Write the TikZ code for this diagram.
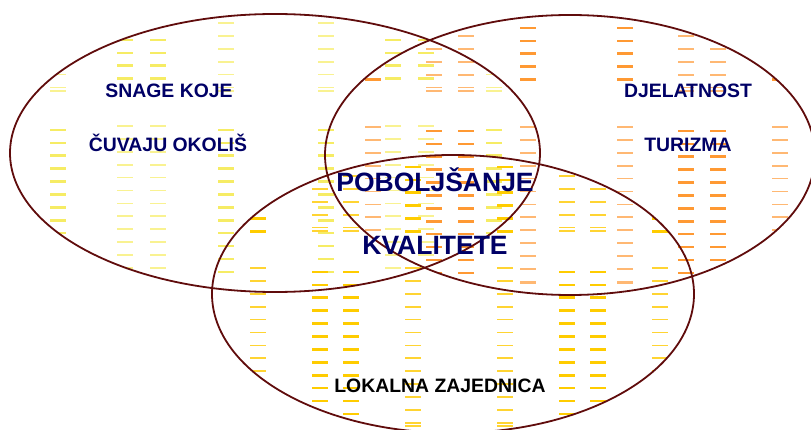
\documentclass[tikz,border=0pt]{standalone}
\usepackage{fontspec}
\setmainfont{Liberation Sans}
\usepackage{xcolor}
\usetikzlibrary{positioning}

\definecolor{rimbrown}{RGB}{96,12,12}
\definecolor{textnavy}{RGB}{0,0,102}
\definecolor{yelthick}{RGB}{246,236,100}
\definecolor{yelthin}{RGB}{249,242,145}
\definecolor{orathick}{RGB}{255,153,51}
\definecolor{orathin}{RGB}{255,184,115}
\definecolor{goldthick}{RGB}{255,204,0}
\definecolor{goldthin}{RGB}{255,212,50}

\tikzset{
  thinyel/.style={draw=yelthin, line width=1.7pt},
  thickyel/.style={draw=yelthick, line width=2.6pt},
  thinora/.style={draw=orathin, line width=1.7pt},
  thickora/.style={draw=orathick, line width=2.6pt},
  thingold/.style={draw=goldthin, line width=1.7pt},
  thickgold/.style={draw=goldthick, line width=2.6pt},
  rim/.style={draw=rimbrown, line width=1.8pt},
  lbl/.style={font=\bfseries\fontsize{19.4}{19.4}\selectfont, text=textnavy, inner sep=0pt, anchor=base},
  biglbl/.style={font=\bfseries\fontsize{26.5}{26.5}\selectfont, text=textnavy, inner sep=0pt, anchor=base}
}

% column of short dashes: x, first y, rows, style
\newcommand{\dashcol}[4]{%
  \foreach \k in {1,...,#3}{\draw[#4] (#1,{#2+12.9*(\k-1)}) -- ++(16,0);}}

\begin{document}
\begin{tikzpicture}[x=1pt, y=-1pt]
    \useasboundingbox (0,0) rectangle (811,430);

    % Left circle - environment forces
    \begin{scope}
        \clip (275,153) ellipse [x radius=265pt, y radius=139pt];
        \foreach \t in {50,318}{
            \foreach \c in {0,168}{
                \dashcol{\t+\c}{23}{6}{thinyel}
                \dashcol{\t+\c}{91}{1}{thinyel}
                \dashcol{\t+\c}{130}{12}{thickyel}
            }
            \foreach \c in {67,100}{
                \dashcol{\t+\c}{40}{4}{thickyel}
                \dashcol{\t+\c}{126}{12}{thinyel}
            }
        }
    \end{scope}

    % Right circle - tourism
    \begin{scope}
        \clip (570,155) ellipse [x radius=245pt, y radius=140pt];
        \foreach \t in {365,617}{
            \foreach \c in {0,155}{
                \dashcol{\t+\c}{28}{5}{thickora}
                \dashcol{\t+\c}{127}{13}{thinora}
                \dashcol{\t+\c}{283}{1}{thinora}
            }
            \foreach \c in {61,93}{
                \dashcol{\t+\c}{36}{5}{thinora}
                \dashcol{\t+\c}{91}{1}{thinora}
                \dashcol{\t+\c}{131}{12}{thickora}
            }
        }
    \end{scope}

    % Bottom circle - local community
    \begin{scope}
        \clip (453,294) ellipse [x radius=241pt, y radius=139pt];
        \foreach \t in {250,497}{
            \foreach \c in {0,155}{
                \dashcol{\t+\c}{167}{6}{thickgold}
                \dashcol{\t+\c}{268}{13}{thingold}
                \dashcol{\t+\c}{426}{1}{thingold}
            }
            \foreach \c in {62,93}{
                \dashcol{\t+\c}{176}{5}{thingold}
                \dashcol{\t+\c}{231}{1}{thingold}
                \dashcol{\t+\c}{272}{12}{thickgold}
            }
        }
    \end{scope}

    % Outlines
    \draw[rim] (275,153) ellipse [x radius=265pt, y radius=139pt];
    \draw[rim] (570,155) ellipse [x radius=245pt, y radius=140pt];
    \draw[rim] (453,294) ellipse [x radius=241pt, y radius=139pt];

    % Labels
    \node[lbl] (snage) at (169,98) {SNAGE KOJE};
    \node[lbl] (cuvaju) at (168,152) {ČUVAJU OKOLIŠ};
    \node[lbl] (djelatnost) at (688,98) {DJELATNOST};
    \node[lbl] (turizma) at (688,152) {TURIZMA};
    \node[biglbl] (poboljsanje) at (435,192) {POBOLJŠANJE};
    \node[biglbl] (kvalitete) at (435,255) {KVALITETE};
    \node[lbl, text=black] (zajednica) at (440,392) {LOKALNA ZAJEDNICA};
\end{tikzpicture}
\end{document}
